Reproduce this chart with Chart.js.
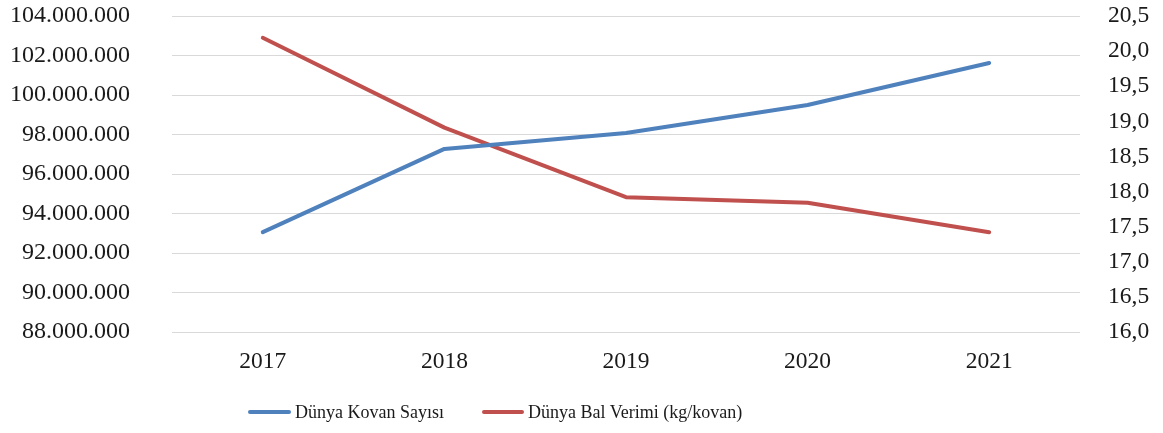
<!DOCTYPE html>
<html>
<head>
<meta charset="utf-8">
<script src="https://cdn.jsdelivr.net/npm/chart.js@4/dist/chart.umd.min.js"></script>
<style>
  html, body { margin: 0; padding: 0; background: #fff; }
  #wrap { position: relative; width: 1163px; height: 433px; }
  #legend { position: absolute; left: 0; top: 0; width: 1163px; height: 433px; pointer-events: none;
    font-family: "Liberation Serif", "Times New Roman", serif; font-size: 18px; color: #1a1a1a; }
  .item { position: absolute; top: 401px; height: 22px; line-height: 22px; white-space: nowrap; }
  .swatch { position: absolute; top: 9px; height: 4px; border-radius: 2px; }
  .txt { position: absolute; top: 0; }
</style>
</head>
<body>
<div id="wrap">
  <canvas id="c" width="1163" height="433"></canvas>
  <div id="legend"></div>
</div>
<script>
const categories = ["2017", "2018", "2019", "2020", "2021"];
const kovanSayisi = [93060000, 97270000, 98080000, 99490000, 101620000];
const balVerimi = [20.19, 18.91, 17.92, 17.84, 17.42];
const seriesNames = ["Dünya Kovan Sayısı", "Dünya Bal Verimi (kg/kovan)"];
const leftTicks = [88000000, 90000000, 92000000, 94000000, 96000000, 98000000, 100000000, 102000000, 104000000];
const rightTicks = [16.0, 16.5, 17.0, 17.5, 18.0, 18.5, 19.0, 19.5, 20.0, 20.5];
const colors = ["#4f81bd", "#c0504d"];

const serif = "'Liberation Serif', 'Times New Roman', serif";
const textColor = "#1a1a1a";

new Chart(document.getElementById('c'), {
  type: 'line',
  data: {
    labels: categories,
    datasets: [
      { label: seriesNames[0], data: kovanSayisi, yAxisID: 'yL', borderColor: colors[0], backgroundColor: colors[0],
        borderWidth: 4, pointRadius: 0, tension: 0, borderCapStyle: 'round', borderJoinStyle: 'round' },
      { label: seriesNames[1], data: balVerimi, yAxisID: 'yR', borderColor: colors[1], backgroundColor: colors[1],
        borderWidth: 4, pointRadius: 0, tension: 0, borderCapStyle: 'round', borderJoinStyle: 'round' }
    ]
  },
  options: {
    responsive: false,
    animation: false,
    layout: { padding: { top: 16, left: 0, right: 0, bottom: 0 } },
    plugins: { legend: { display: false }, tooltip: { enabled: false } },
    scales: {
      x: {
        offset: true,
        grid: { display: false, drawTicks: false },
        border: { display: false },
        ticks: { font: { family: serif, size: 23.5 }, color: textColor, padding: 16, maxRotation: 0, autoSkip: false },
        afterFit: s => { s.height = 101; }
      },
      yL: {
        position: 'left',
        min: leftTicks[0], max: leftTicks[leftTicks.length - 1],
        afterBuildTicks: s => { s.ticks = leftTicks.map(v => ({ value: v })); },
        grid: { color: '#d9d9d9', lineWidth: 1, drawTicks: true, tickLength: 42, tickColor: 'rgba(0,0,0,0)' },
        border: { display: false },
        ticks: { font: { family: serif, size: 24 }, color: textColor, padding: 0, autoSkip: false,
          callback: v => Number(v).toLocaleString('de-DE') },
        afterFit: s => { s.width = 172; }
      },
      yR: {
        position: 'right',
        min: rightTicks[0], max: rightTicks[rightTicks.length - 1],
        afterBuildTicks: s => { s.ticks = rightTicks.map(v => ({ value: v })); },
        grid: { display: true, drawOnChartArea: false, drawTicks: true, tickLength: 28, tickColor: 'rgba(0,0,0,0)' },
        border: { display: false },
        ticks: { font: { family: serif, size: 23.5 }, color: textColor, padding: 0, autoSkip: false,
          callback: v => Number(v).toFixed(1).replace('.', ',') },
        afterFit: s => { s.width = 83; }
      }
    }
  }
});

const legendEl = document.getElementById('legend');
const legendPos = [{ line: 248, text: 295 }, { line: 482, text: 528 }];
seriesNames.forEach((name, i) => {
  const item = document.createElement('div');
  item.className = 'item';
  item.style.left = legendPos[i].line + 'px';
  const sw = document.createElement('div');
  sw.className = 'swatch';
  sw.style.left = '0px';
  sw.style.width = (legendPos[i].text - legendPos[i].line - 4) + 'px';
  sw.style.background = colors[i];
  const t = document.createElement('div');
  t.className = 'txt';
  t.style.left = (legendPos[i].text - legendPos[i].line) + 'px';
  t.textContent = name;
  item.appendChild(sw);
  item.appendChild(t);
  legendEl.appendChild(item);
});
</script>
</body>
</html>
